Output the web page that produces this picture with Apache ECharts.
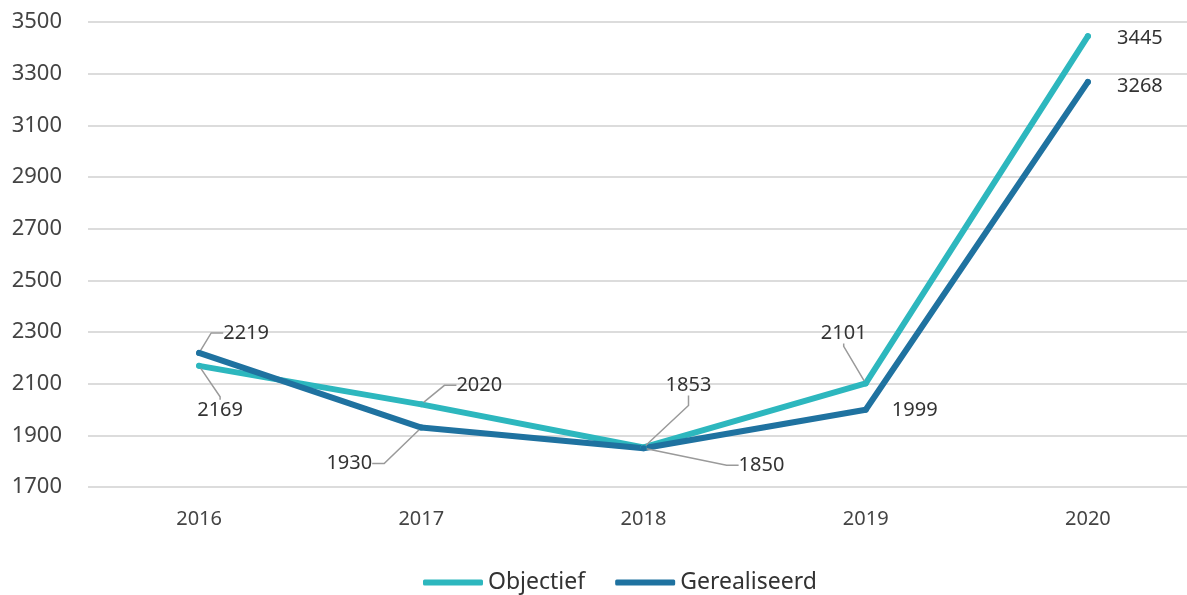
<!DOCTYPE html>
<html lang="nl">
<head>
  <meta charset="UTF-8">
  <title>Objectief vs Gerealiseerd</title>
  <script src="https://cdn.jsdelivr.net/npm/echarts@6/dist/echarts.min.js"></script>
  <style>
    html, body { margin: 0; padding: 0; background: #fff; }
    #chart { width: 1187px; height: 595px; }
  </style>
</head>
<body>
<div id="chart"></div>
<script>
  // data
  const years = ["2016", "2017", "2018", "2019", "2020"];
  const objectief = [2169, 2020, 1853, 2101, 3445];
  const gerealiseerd = [2219, 1930, 1850, 1999, 3268];

  // label placement (pixel offset from the point), leader line on/off and its end stub
  const objOffsets = [[21, 44], [58, -19], [45, -62], [-22, -50], [52, 2]];
  const objLines = [true, true, true, true, false];
  const objStub = [3, 12, 10, 3, 0];
  const gerOffsets = [[47, -20], [-72, 36], [118, 17], [49, 1], [52, 4]];
  const gerLines = [true, true, true, false, false];
  const gerStub = [12, 12, 12, 0, 0];

  const font = "'Noto Sans', 'Open Sans', sans-serif";
  const colObj = "#2db7be";
  const colGer = "#1f72a0";

  function items(values, lines, stubs) {
    return values.map((v, i) => ({
      value: v,
      labelLine: { show: lines[i], length2: stubs[i] }
    }));
  }

  function lineSeries(name, values, color, offsets, lines, stubs) {
    return {
      name: name,
      type: "line",
      data: items(values, lines, stubs),
      symbol: "circle",
      symbolSize: 6,
      showSymbol: true,
      itemStyle: { color: color },
      lineStyle: { color: color, width: 6, cap: "round", join: "round" },
      label: {
        show: true,
        position: "inside",
        color: "#333",
        fontFamily: font,
        fontSize: 20,
        textBorderWidth: 0
      },
      labelLine: {
        show: true,
        length2: 12,
        lineStyle: { color: "#9a9a9a", width: 1.5 }
      },
      labelLayout: function (p) {
        const o = offsets[p.dataIndex];
        return { dx: o[0], dy: o[1] };
      },
      emphasis: { disabled: true }
    };
  }

  const chart = echarts.init(document.getElementById("chart"));
  chart.setOption({
    animation: false,
    backgroundColor: "#fff",
    grid: { left: 88, top: 22, width: 1111, height: 465, outerBoundsMode: "none" },
    legend: {
      left: 418,
      top: 566,
      icon: "roundRect",
      itemWidth: 60,
      itemHeight: 6,
      itemGap: 30,
      textStyle: { fontFamily: font, fontSize: 23, color: "#333" },
      data: ["Objectief", "Gerealiseerd"]
    },
    xAxis: {
      type: "category",
      data: years,
      boundaryGap: true,
      axisLine: { show: false },
      axisTick: { show: false },
      axisLabel: { fontFamily: font, fontSize: 20, color: "#444", margin: 22 }
    },
    yAxis: {
      type: "value",
      min: 1700,
      max: 3500,
      interval: 200,
      axisLine: { show: false },
      axisTick: { show: false },
      axisLabel: {
        fontFamily: font, fontSize: 22, color: "#444", margin: 26,
        formatter: (v) => String(v)
      },
      splitLine: { lineStyle: { color: "#dcdcdc", width: 2 } }
    },
    series: [
      lineSeries("Objectief", objectief, colObj, objOffsets, objLines, objStub),
      lineSeries("Gerealiseerd", gerealiseerd, colGer, gerOffsets, gerLines, gerStub)
    ]
  });
</script>
</body>
</html>
